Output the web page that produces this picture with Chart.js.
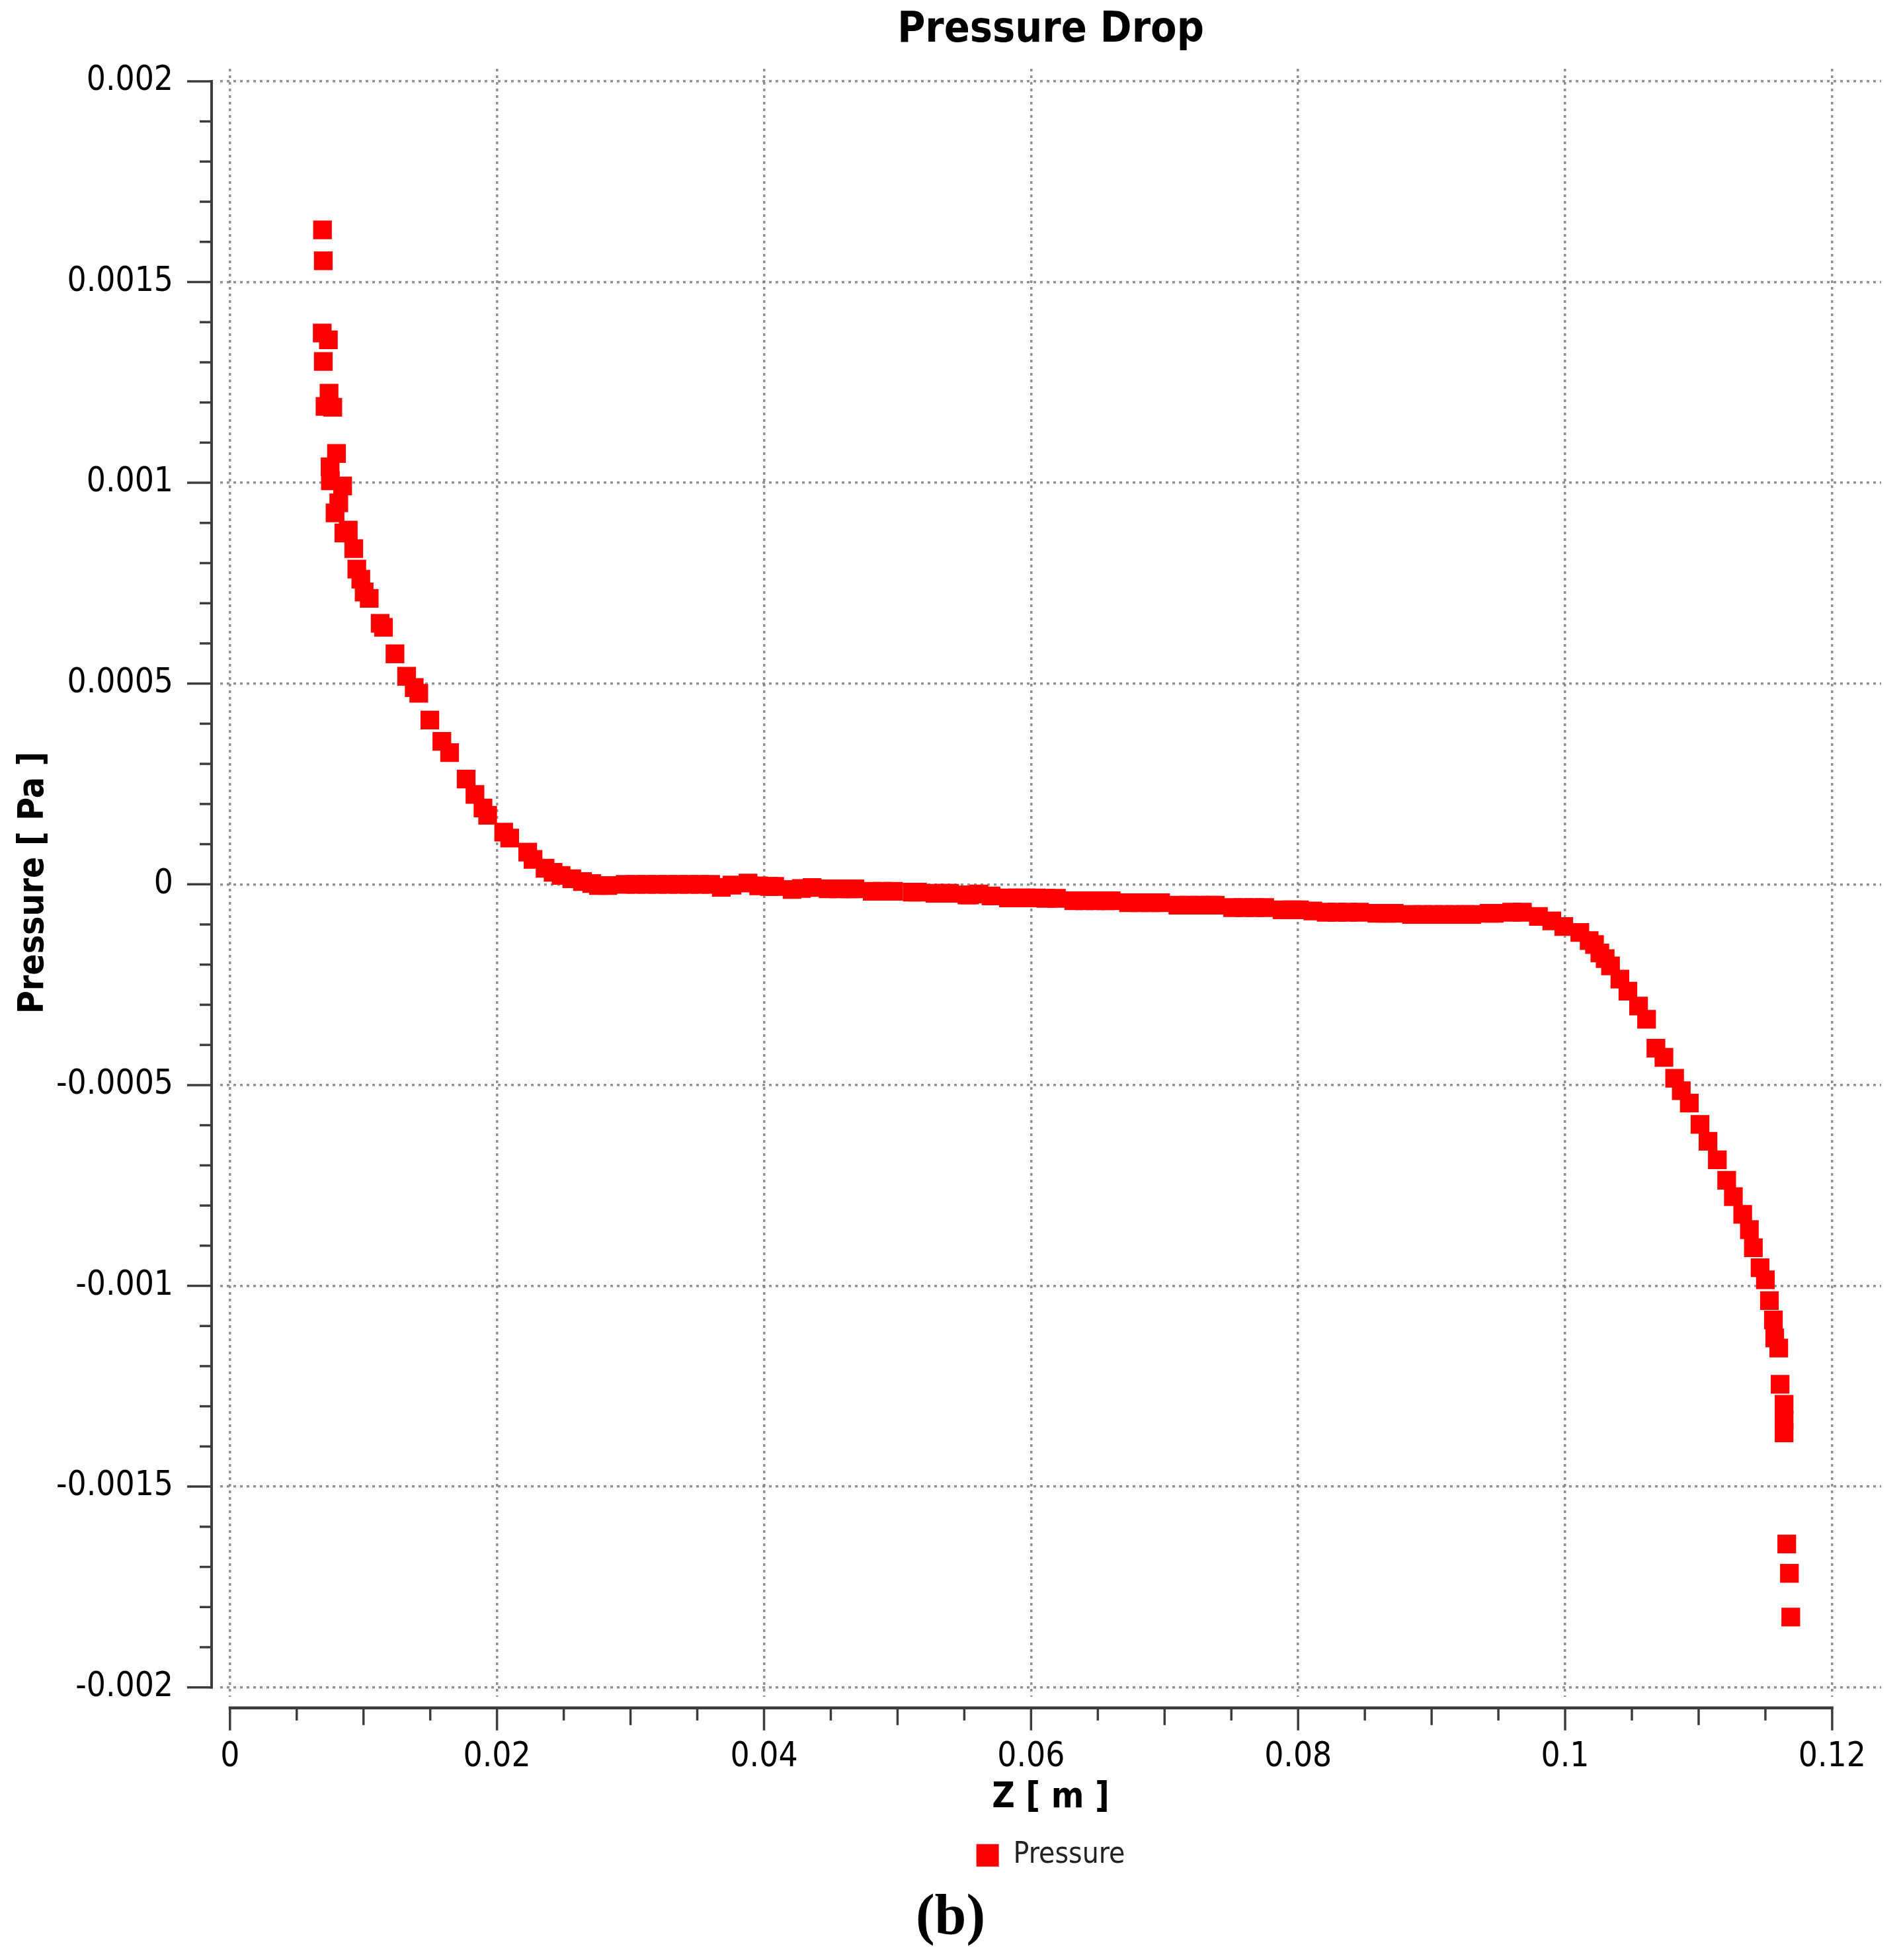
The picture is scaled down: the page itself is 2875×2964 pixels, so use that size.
<!DOCTYPE html>
<html>
<head>
<meta charset="utf-8">
<title>Pressure Drop</title>
<script src="https://cdn.jsdelivr.net/npm/chart.js@4.4.1/dist/chart.umd.min.js"></script>
<style>
  html, body { margin: 0; padding: 0; background: #fff; }
  canvas { display: block; }
</style>
</head>
<body>
<canvas id="pressureChart" width="2875" height="2964"></canvas>
<script>
// Z [m] positions of the samples
const zValues = [
    0.00693, 0.00699, 0.00691, 0.00737, 0.00699, 0.00742, 0.00712, 0.00770, 0.00798, 0.00750,
    0.00752, 0.00844, 0.00815, 0.00787, 0.00886, 0.00853, 0.00927, 0.00950, 0.00980, 0.01005,
    0.01043, 0.01125, 0.01150, 0.01236, 0.01323, 0.01380, 0.01414, 0.01497, 0.01587, 0.01645,
    0.01769, 0.01835, 0.01895, 0.01930, 0.02050, 0.02095, 0.02230, 0.02270, 0.02360, 0.02420,
    0.02480, 0.02560, 0.02640, 0.02710,
    0.0276, 0.0283, 0.0296, 0.0304, 0.0312, 0.0320, 0.0328, 0.0336, 0.0344, 0.0352,
    0.0360, 0.0368, 0.0376, 0.0388, 0.0396, 0.0404, 0.0408, 0.0421, 0.0428, 0.0436,
    0.0448, 0.0456, 0.0464, 0.0468, 0.0481, 0.0489, 0.0497, 0.0511, 0.0515, 0.0528,
    0.0535, 0.0539, 0.0552, 0.0554, 0.0561, 0.0570, 0.0583, 0.0590, 0.0596, 0.0604,
    0.0611, 0.0619, 0.0632, 0.0640, 0.0648, 0.0656, 0.0660, 0.0673, 0.0681, 0.0689,
    0.0697, 0.0710, 0.0718, 0.0726, 0.0734, 0.0738, 0.0751, 0.0759, 0.0767, 0.0775,
    0.0788, 0.0796, 0.0801, 0.0811, 0.0821, 0.0829, 0.0837, 0.0846, 0.0859, 0.0866,
    0.0872, 0.0885, 0.0893, 0.0901, 0.0909, 0.0917, 0.0925, 0.0930, 0.0943, 0.0947,
    0.0960, 0.0968,
    0.0980, 0.0990, 0.0999, 0.1011, 0.1018, 0.1022, 0.1026, 0.1030, 0.1034, 0.1041,
    0.1047, 0.1055, 0.1061, 0.1068, 0.1074, 0.1082, 0.1087, 0.1093, 0.1101, 0.1107,
    0.1114, 0.1121, 0.1126, 0.1133, 0.1138, 0.1141, 0.1146, 0.1150, 0.1153, 0.1156,
    0.1157, 0.1160, 0.1161, 0.1164, 0.1164, 0.1164, 0.1166, 0.1168, 0.1169
];

// Pressure [Pa] at each sample
const pressureValues = [
    0.001630, 0.001553, 0.001373, 0.001356, 0.001302, 0.001223, 0.001190, 0.001188, 0.001073, 0.001040,
    0.001005, 0.000992, 0.000950, 0.000925, 0.000882, 0.000875, 0.000836, 0.000785, 0.000760, 0.000728,
    0.000712, 0.000650, 0.000640, 0.000574, 0.000518, 0.000490, 0.000476, 0.000409, 0.000356, 0.000328,
    0.000262, 0.000224, 0.000190, 0.000172, 0.000130, 0.000115, 0.000080, 0.000062, 0.000040, 0.000030,
    0.000022, 0.000014, 0.000007, 0.000002,
    -0.000003, -0.000003, 0, 0, 0, 0, 0, 0, 0, 0,
    0, -0.0000075, -0.000002, 0.000003, -0.000004, -0.0000053, -0.0000053, -0.0000128, -0.0000105, -0.000008,
    -0.0000112, -0.0000112, -0.0000112, -0.0000112, -0.0000173, -0.0000173, -0.0000173, -0.0000195, -0.0000195, -0.0000222,
    -0.0000222, -0.0000222, -0.0000265, -0.0000265, -0.000024, -0.0000288, -0.0000338, -0.0000338, -0.0000338, -0.000034,
    -0.0000349, -0.0000349, -0.0000409, -0.0000409, -0.0000409, -0.0000409, -0.0000409, -0.0000458, -0.0000458, -0.0000458,
    -0.0000458, -0.0000519, -0.0000519, -0.0000519, -0.0000519, -0.0000519, -0.000058, -0.000058, -0.000058, -0.000058,
    -0.0000634, -0.0000634, -0.0000634, -0.0000665, -0.0000695, -0.0000695, -0.0000695, -0.0000695, -0.0000722, -0.0000722,
    -0.0000722, -0.0000749, -0.0000749, -0.0000749, -0.0000749, -0.0000749, -0.0000749, -0.0000749, -0.0000722, -0.0000722,
    -0.0000695, -0.0000695,
    -0.000080, -0.000091, -0.000105, -0.000120, -0.000140, -0.000150, -0.000171, -0.000185, -0.000203, -0.000236,
    -0.000266, -0.000303, -0.000336, -0.000408, -0.000431, -0.000483, -0.000514, -0.000545, -0.000598, -0.000640,
    -0.000686, -0.000737, -0.000778, -0.000822, -0.000860, -0.000905, -0.000955, -0.000985, -0.001037, -0.001085,
    -0.001130, -0.001155, -0.001245, -0.001295, -0.001335, -0.001366, -0.001643, -0.001716, -0.001825
];

const xTicks = [0, 0.02, 0.04, 0.06, 0.08, 0.1, 0.12];
const xTickLabels = ['0', '0.02', '0.04', '0.06', '0.08', '0.1', '0.12'];
const yTicks = [-0.002, -0.0015, -0.001, -0.0005, 0, 0.0005, 0.001, 0.0015, 0.002];
const yTickLabels = ['-0.002', '-0.0015', '-0.001', '-0.0005', '0', '0.0005', '0.001', '0.0015', '0.002'];

const FONT = "'DejaVu Sans Condensed', 'DejaVu Sans', sans-serif";
const GRID_COLOR = 'rgba(125, 125, 125, 0.85)';
const AXIS_COLOR = '#3c3c3c';

// CFX style axes: drawn a little away from the grid, with minor ticks
const offsetAxes = {
    id: 'offsetAxes',
    afterDraw(chart) {
        const { ctx, chartArea, scales: { x, y } } = chart;
        const axisX = chartArea.left - 13;
        const axisY = chartArea.bottom + 17;

        ctx.save();
        ctx.strokeStyle = AXIS_COLOR;

        // vertical axis
        ctx.lineWidth = 4;
        ctx.beginPath();
        ctx.moveTo(axisX, y.getPixelForValue(yTicks[yTicks.length - 1]) - 2);
        ctx.lineTo(axisX, y.getPixelForValue(yTicks[0]) + 2);
        ctx.stroke();

        ctx.lineWidth = 3.5;
        for (let i = -20; i <= 20; i++) {
            const py = y.getPixelForValue(i * 0.0001);
            const len = i % 5 === 0 ? 37 : 18;
            ctx.beginPath();
            ctx.moveTo(axisX - len, py);
            ctx.lineTo(axisX, py);
            ctx.stroke();
        }

        // horizontal axis
        ctx.lineWidth = 4.5;
        ctx.beginPath();
        ctx.moveTo(x.getPixelForValue(xTicks[0]) - 2, axisY);
        ctx.lineTo(x.getPixelForValue(xTicks[xTicks.length - 1]) + 2, axisY);
        ctx.stroke();

        ctx.lineWidth = 3.5;
        for (let i = 0; i <= 24; i++) {
            const px = x.getPixelForValue(i * 0.005);
            const len = i % 4 === 0 ? 34 : (i % 2 === 0 ? 26 : 19);
            ctx.beginPath();
            ctx.moveTo(px, axisY);
            ctx.lineTo(px, axisY + len);
            ctx.stroke();
        }
        ctx.restore();
    }
};

const points = zValues.map((z, i) => ({ x: z, y: pressureValues[i] }));

new Chart(document.getElementById('pressureChart'), {
    type: 'scatter',
    data: {
        datasets: [{
            label: 'Pressure',
            data: points,
            pointStyle: 'rect',
            pointRadius: 20,
            pointHoverRadius: 20,
            backgroundColor: '#ff0000',
            borderColor: '#ff0000',
            borderWidth: 0
        }]
    },
    options: {
        responsive: false,
        animation: false,
        devicePixelRatio: 1,
        events: [],
        layout: { padding: 0 },
        plugins: {
            title: {
                display: true,
                text: 'Pressure Drop',
                fullSize: false,
                color: '#000',
                font: { family: FONT, size: 64, weight: 'bold' },
                padding: { top: 8, bottom: 19.2 }
            },
            subtitle: {
                display: true,
                position: 'bottom',
                text: '(b)',
                color: '#000',
                font: { family: "'Liberation Serif', 'DejaVu Serif', serif", size: 86, weight: 'bold' },
                padding: { top: 12, bottom: 11 }
            },
            legend: {
                position: 'bottom',
                fullSize: false,
                labels: {
                    color: '#222',
                    boxWidth: 34,
                    boxHeight: 34,
                    padding: 33,
                    font: { family: FONT, size: 44 }
                }
            },
            tooltip: { enabled: false }
        },
        scales: {
            x: {
                type: 'linear',
                min: -0.000733,
                max: 0.12367,
                afterBuildTicks: (axis) => { axis.ticks = xTicks.map(v => ({ value: v })); },
                afterFit: (axis) => {
                    axis.height = 185;
                    axis.paddingRight = 30; // keeps the grid clear of the right edge
                },
                grid: {
                    color: GRID_COLOR,
                    lineWidth: 3.5,
                    drawTicks: true,
                    tickLength: 61,
                    tickColor: 'rgba(0, 0, 0, 0)'
                },
                border: { display: false, dash: [4, 6] },
                ticks: {
                    color: '#000',
                    padding: 0,
                    maxRotation: 0,
                    autoSkip: false,
                    font: { family: FONT, size: 51 },
                    callback: (value, index) => xTickLabels[index]
                },
                title: {
                    display: true,
                    text: 'Z [ m ]',
                    color: '#000',
                    font: { family: FONT, size: 53, weight: 'bold' },
                    padding: { top: 0, bottom: 0 }
                }
            },
            y: {
                type: 'linear',
                min: -0.0020232,
                max: 0.0020311,
                afterBuildTicks: (axis) => { axis.ticks = yTicks.map(v => ({ value: v })); },
                afterFit: (axis) => { axis.width = 333; },
                grid: {
                    color: GRID_COLOR,
                    lineWidth: 3.5,
                    drawTicks: true,
                    tickLength: 71,
                    tickColor: 'rgba(0, 0, 0, 0)'
                },
                border: { display: false, dash: [4, 6] },
                ticks: {
                    color: '#000',
                    padding: 0,
                    autoSkip: false,
                    font: { family: FONT, size: 51 },
                    callback: (value, index) => yTickLabels[index]
                },
                title: {
                    display: true,
                    text: 'Pressure [ Pa ]',
                    color: '#000',
                    font: { family: FONT, size: 53, weight: 'bold' },
                    padding: { top: 19, bottom: 0 }
                }
            }
        }
    },
    plugins: [offsetAxes]
});
</script>
</body>
</html>
